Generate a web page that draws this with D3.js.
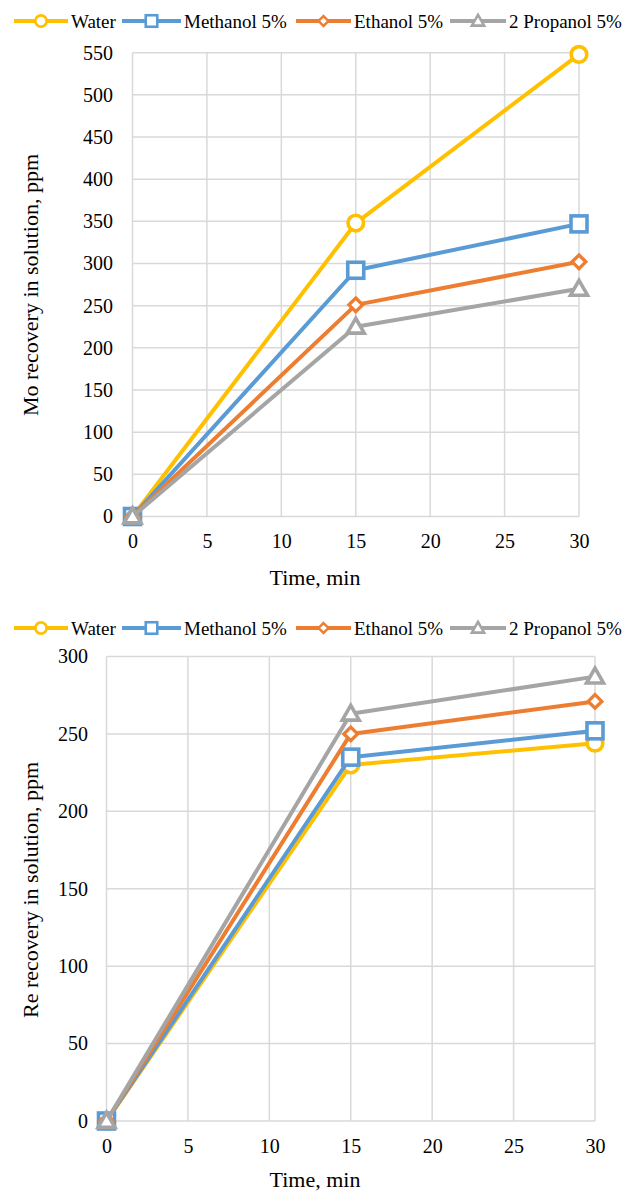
<!DOCTYPE html>
<html>
<head>
<meta charset="utf-8">
<script src="https://cdn.jsdelivr.net/npm/d3@7"></script>
<style>
  html, body { margin: 0; padding: 0; background: #fff; }
  svg text { font-family: "Liberation Serif", Tinos, "Times New Roman", "DejaVu Serif", serif !important; fill: #000; }
</style>
</head>
<body>
<svg id="chart" width="622" height="1192"></svg>
<script>
// ---- data ----
const seriesNames = ["Water", "Methanol 5%", "Ethanol 5%", "2 Propanol 5%"];
const timeMin = [0, 15, 30];
const moWater = [0, 348, 548];
const moMethanol = [0, 292, 347];
const moEthanol = [0, 251, 302];
const moPropanol = [0, 225, 270];
const reWater = [0, 230, 244];
const reMethanol = [0, 235, 252];
const reEthanol = [0, 250, 271];
const rePropanol = [0, 263, 287];
const xTicks = [0, 5, 10, 15, 20, 25, 30];
const moTicks = [0, 50, 100, 150, 200, 250, 300, 350, 400, 450, 500, 550];
const reTicks = [0, 50, 100, 150, 200, 250, 300];

const colors = ["#FFC000", "#5B9BD5", "#ED7D31", "#A5A5A5"];
const markers = ["circle", "square", "diamond", "triangle"];
const FONT = '"Liberation Serif", Tinos, "Times New Roman", "DejaVu Serif", serif';

const svg = d3.select("#chart");

function drawMarker(g, type, x, y, color) {
  if (type === "circle") {
    g.append("circle").attr("cx", x).attr("cy", y).attr("r", 7.8)
      .attr("fill", "#fff").attr("stroke", color).attr("stroke-width", 3.6);
  } else if (type === "square") {
    g.append("rect").attr("x", x - 8).attr("y", y - 8).attr("width", 16).attr("height", 16)
      .attr("fill", "#fff").attr("stroke", color).attr("stroke-width", 3.6);
  } else if (type === "diamond") {
    const s = 6.8;
    g.append("path").attr("d", `M${x},${y - s}L${x + s},${y}L${x},${y + s}L${x - s},${y}Z`)
      .attr("fill", "#fff").attr("stroke", color).attr("stroke-width", 3.4);
  } else {
    const s = 8.5;
    g.append("path").attr("d", `M${x},${y - s}L${x + s},${y + s * 0.75}L${x - s},${y + s * 0.75}Z`)
      .attr("fill", "#fff").attr("stroke", color).attr("stroke-width", 3.6).attr("stroke-linejoin", "miter");
  }
}

function drawChart(cfg) {
  const x = d3.scaleLinear().domain([0, 30]).range([cfg.left, cfg.right]);
  const y = d3.scaleLinear().domain([0, cfg.ymax]).range([cfg.bottom, cfg.top]);
  const g = svg.append("g");

  // gridlines
  g.append("g").selectAll("line.h").data(cfg.yTicks).join("line")
    .attr("x1", cfg.left).attr("x2", cfg.right)
    .attr("y1", d => y(d)).attr("y2", d => y(d))
    .attr("stroke", "#D9D9D9").attr("stroke-width", 1.5);
  g.append("g").selectAll("line.v").data(xTicks).join("line")
    .attr("x1", d => x(d)).attr("x2", d => x(d))
    .attr("y1", cfg.top).attr("y2", cfg.bottom)
    .attr("stroke", "#D9D9D9").attr("stroke-width", 1.5);

  // y axis labels
  const yAxis = d3.axisLeft(y).tickValues(cfg.yTicks).tickSize(0).tickPadding(0);
  const ya = g.append("g").attr("transform", `translate(${cfg.yLabelRight},0)`).call(yAxis)
    .attr("font-family", FONT).attr("font-size", 20);
  ya.select(".domain").remove();
  ya.selectAll("text").attr("fill", "#000");

  // x axis labels
  const xAxis = d3.axisBottom(x).tickValues(xTicks).tickSize(0).tickPadding(0);
  const xa = g.append("g").attr("transform", `translate(0,${cfg.xLabelTop})`).call(xAxis)
    .attr("font-family", FONT).attr("font-size", 20);
  xa.select(".domain").remove();
  xa.selectAll("text").attr("fill", "#000");

  // axis titles
  g.append("text").attr("x", cfg.xTitleX).attr("y", cfg.xTitleY)
    .attr("text-anchor", "middle").attr("font-size", 22).attr("font-family", FONT).text("Time, min");
  g.append("text").attr("transform", `translate(${cfg.yTitleX},${cfg.yTitleY}) rotate(-90)`)
    .attr("text-anchor", "middle").attr("font-size", 22).attr("font-family", FONT).text(cfg.yTitle);

  // lines
  const line = d3.line().x(d => x(d[0])).y(d => y(d[1]));
  cfg.series.forEach((vals, i) => {
    const pts = timeMin.map((t, j) => [t, vals[j]]);
    const sg = g.append("g");
    sg.append("path").attr("d", line(pts)).attr("fill", "none")
      .attr("stroke", colors[i]).attr("stroke-width", 4).attr("stroke-linejoin", "round");
    pts.forEach(p => drawMarker(sg, markers[i], x(p[0]), y(p[1]), colors[i]));
  });

  // legend
  const lg = g.append("g");
  cfg.legendPos.forEach((lp, i) => {
    lg.append("line").attr("x1", lp[0]).attr("x2", lp[1]).attr("y1", cfg.legendY).attr("y2", cfg.legendY)
      .attr("stroke", colors[i]).attr("stroke-width", 4);
    const mg = lg.append("g").attr("transform", `translate(${(lp[0] + lp[1]) / 2},${cfg.legendY}) scale(0.72)`);
    drawMarker(mg, markers[i], 0, 0, colors[i]);
    lg.append("text").attr("x", lp[1] + 3).attr("y", cfg.legendY + 6.5).attr("font-size", 19)
      .attr("font-family", FONT).text(seriesNames[i]);
  });
}

const legendPos = [[14, 68], [122, 181], [296, 351], [450, 506]];

drawChart({
  left: 132.5, right: 579, top: 52.7, bottom: 516.5, ymax: 550,
  yTicks: moTicks, yLabelRight: 113, xLabelTop: 534, xTitleX: 315, xTitleY: 585, yTitleX: 38, yTitleY: 285,
  yTitle: "Mo recovery in solution, ppm",
  series: [moWater, moMethanol, moEthanol, moPropanol],
  legendY: 21, legendPos: legendPos
});

drawChart({
  left: 106.5, right: 595, top: 656.5, bottom: 1121, ymax: 300,
  yTicks: reTicks, yLabelRight: 88, xLabelTop: 1139, xTitleX: 315, xTitleY: 1187, yTitleX: 38, yTitleY: 890,
  yTitle: "Re recovery in solution, ppm",
  series: [reWater, reMethanol, reEthanol, rePropanol],
  legendY: 628, legendPos: legendPos
});
</script>
</body>
</html>
